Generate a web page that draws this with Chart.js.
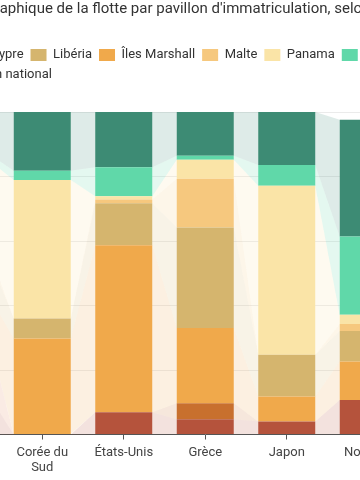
<!DOCTYPE html>
<html lang="fr">
<head>
<meta charset="utf-8">
<title>Flotte par pavillon d'immatriculation</title>
<script src="https://cdn.jsdelivr.net/npm/chart.js@4.4.1/dist/chart.umd.min.js"></script>
<style>
html, body { margin: 0; padding: 0; background: #fff; }
.frame { position: relative; width: 360px; height: 480px; overflow: hidden; }
#flotte { position: absolute; left: -150px; top: 0; }
</style>
</head>
<body>

<div class="frame">
    <canvas id="flotte" width="650" height="480"></canvas>
</div>

<script>

/* DATA (parts de la flotte en %, de bas en haut de la pile) */

const categories = ["Chine", "Corée du Sud", "États-Unis", "Grèce", "Japon", "Norvège", "Royaume-Uni"];

const tickLabels = [["Chine"], ["Corée du", "Sud"], ["États-Unis"], ["Grèce"], ["Japon"], ["Norvège"], ["Royaume-Uni"]];

const yTicks = [0, 20, 40, 60, 80, 100];

const pavillonNational = [12, 0, 6.9, 4.7, 4.0, 10.7, 15];
const hongKong         = [18, 0, 0, 0, 0, 0, 4];
const chypre           = [0, 0, 0, 5.0, 0, 0, 2];
const ilesMarshall     = [13, 29.8, 51.8, 23.3, 7.8, 11.9, 25];
const liberia          = [12, 6.2, 13.0, 31.2, 12.9, 9.5, 18];
const malte            = [2, 0, 1.2, 15.1, 0, 2.2, 8];
const panama           = [28, 42.9, 1.0, 5.9, 52.4, 2.8, 5];
const singapour        = [2, 2.9, 9.0, 1.2, 6.5, 24.3, 3];
const autres           = [13, 18.2, 17.1, 13.6, 16.4, 36.2, 20];

const legendOrder = [
    "Hong Kong", "Chypre", "Libéria", "Îles Marshall", "Malte",
    "Panama", "Singapour", "Autres", "Pavillon national"
];


/* STYLE */

const colors = {
    national: "#b5533c",
    hongKong: "#e38a5c",
    chypre: "#c8702e",
    marshall: "#f0a94b",
    liberia: "#d5b56e",
    malte: "#f6c87e",
    panama: "#fae4a7",
    singapour: "#60d8a9",
    autres: "#3d8b74"
};

const series = [
    { label: "Pavillon national", data: pavillonNational, color: colors.national },
    { label: "Hong Kong", data: hongKong, color: colors.hongKong },
    { label: "Chypre", data: chypre, color: colors.chypre },
    { label: "Îles Marshall", data: ilesMarshall, color: colors.marshall },
    { label: "Libéria", data: liberia, color: colors.liberia },
    { label: "Malte", data: malte, color: colors.malte },
    { label: "Panama", data: panama, color: colors.panama },
    { label: "Singapour", data: singapour, color: colors.singapour },
    { label: "Autres", data: autres, color: colors.autres }
];

function fade(hex, alpha) {
    const n = parseInt(hex.slice(1), 16);
    return "rgba(" + (n >> 16) + "," + ((n >> 8) & 255) + "," + (n & 255) + "," + alpha + ")";
}


/* bandes translucides qui relient les segments d'une barre à l'autre */

const flows = {
    id: "flows",
    beforeDatasetsDraw(chart) {
        const ctx = chart.ctx;
        chart.data.datasets.forEach((ds, i) => {
            const bars = chart.getDatasetMeta(i).data;
            ctx.save();
            ctx.fillStyle = fade(ds.backgroundColor, 0.17);
            for (let j = 0; j < bars.length - 1; j++) {
                const a = bars[j].getProps(["x", "y", "base", "width"], true);
                const b = bars[j + 1].getProps(["x", "y", "base", "width"], true);
                ctx.beginPath();
                ctx.moveTo(a.x + a.width / 2, a.y);
                ctx.lineTo(b.x - b.width / 2, b.y);
                ctx.lineTo(b.x - b.width / 2, b.base);
                ctx.lineTo(a.x + a.width / 2, a.base);
                ctx.closePath();
                ctx.fill();
            }
            ctx.restore();
        });
    }
};

/* espace sous la légende */

const legendGap = {
    id: "legendGap",
    beforeInit(chart) {
        const fit = chart.legend.fit;
        chart.legend.fit = function () {
            fit.call(this);
            this.height += 20.5;
        };
    }
};


/* CHART */

Chart.defaults.font.family = "Roboto, 'Noto Sans', sans-serif";
Chart.defaults.color = "#333";

new Chart(document.getElementById("flotte"), {

    type: "bar",

    data: {
        labels: tickLabels,
        datasets: series.map(s => ({
            label: s.label,
            data: s.data,
            backgroundColor: s.color,
            borderWidth: 0,
            barPercentage: 1,
            categoryPercentage: 0.7
        }))
    },

    plugins: [flows, legendGap],

    options: {

        responsive: false,
        devicePixelRatio: 1,
        animation: false,

        layout: {
            padding: { left: 10, right: 9.5, top: 0, bottom: 0 }
        },

        plugins: {

            title: {
                display: true,
                text: "Répartition géographique de la flotte par pavillon d'immatriculation, selon l'armateur (%)",
                color: "#333",
                font: { size: 15, weight: "normal" },
                padding: { top: 0, bottom: 23.5 }
            },

            legend: {
                position: "top",
                align: "start",
                labels: {
                    boxWidth: 16,
                    boxHeight: 12,
                    padding: 7,
                    color: "#333",
                    font: { size: 13 },
                    sort: (a, b) => legendOrder.indexOf(a.text) - legendOrder.indexOf(b.text)
                }
            },

            tooltip: { enabled: false }
        },

        scales: {

            x: {
                stacked: true,
                grid: {
                    display: true,
                    drawOnChartArea: false,
                    offset: false,
                    tickLength: 5,
                    color: "#555"
                },
                border: { color: "#555" },
                ticks: {
                    color: "#444",
                    font: { size: 13 },
                    padding: 5,
                    maxRotation: 0,
                    autoSkip: false
                },
                afterFit(scale) {
                    scale.height = 45.5;
                }
            },

            y: {
                stacked: true,
                min: yTicks[0],
                max: yTicks[yTicks.length - 1],
                ticks: {
                    stepSize: yTicks[1] - yTicks[0],
                    callback: v => v + " %",
                    color: "#444",
                    font: { size: 12 }
                },
                grid: {
                    color: "rgba(0,0,0,0.08)",
                    drawTicks: false
                },
                border: { display: false },
                afterFit(scale) {
                    scale.width = 60;
                }
            }
        }
    }
});

</script>
</body>
</html>
